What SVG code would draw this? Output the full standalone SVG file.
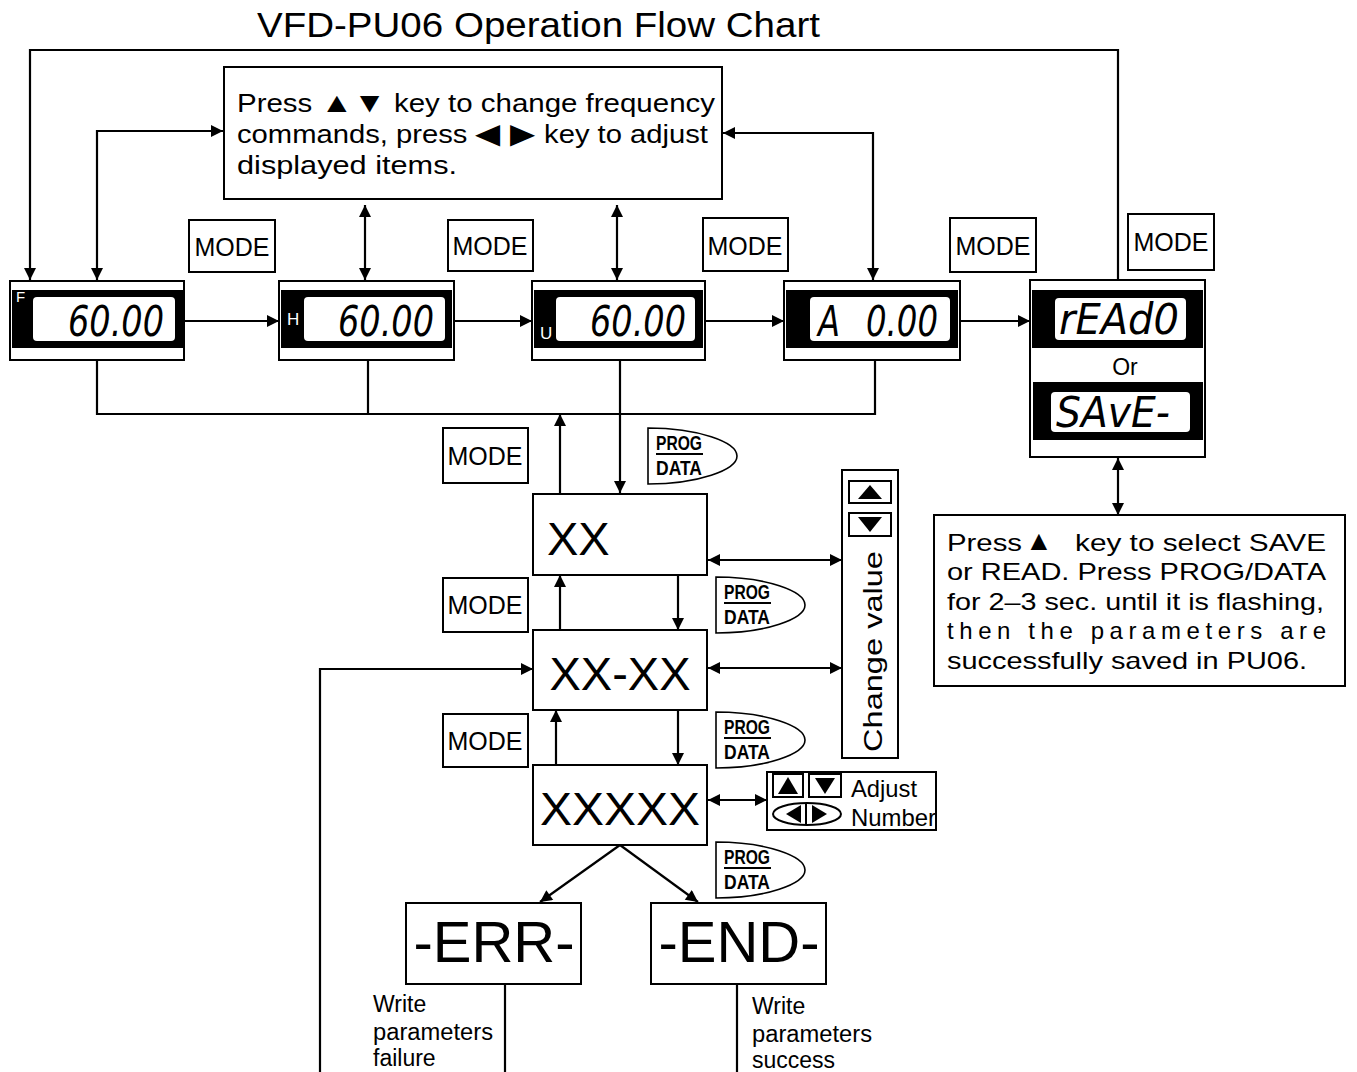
<svg xmlns="http://www.w3.org/2000/svg" width="1357" height="1072" viewBox="0 0 1357 1072">
<style>
.bx{fill:#fff;stroke:#000;stroke-width:2}
.ln{fill:none;stroke:#000;stroke-width:2.2}
.t{font-family:"Liberation Sans",Arial,sans-serif;fill:#000}
.md{font-family:"Liberation Sans",Arial,sans-serif;font-size:25px}
.lcd{font-family:"DejaVu Sans",sans-serif;font-style:italic;font-weight:200;font-size:42px;fill:#000}
.lbl{font-family:"Liberation Sans",Arial,sans-serif;fill:#fff}
.big{font-family:"Liberation Sans",Arial,sans-serif;font-size:47px}
</style>
<defs>
<marker id="a" viewBox="0 0 10 10" refX="10" refY="5" markerWidth="13" markerHeight="12" markerUnits="userSpaceOnUse" orient="auto-start-reverse"><path d="M0,0 L10,5 L0,10 z" fill="#000"/></marker>
<g id="pd">
<path d="M0,0 L0,56 C50,56 89,42 89,28 C89,14 50,0 0,0 Z" fill="#fff" stroke="#000" stroke-width="1.6"/>
<text x="8" y="22" class="t" font-size="21" font-weight="bold" textLength="46" lengthAdjust="spacingAndGlyphs">PROG</text>
<line x1="8" y1="26" x2="55" y2="26" stroke="#000" stroke-width="2.2"/>
<text x="8" y="47" class="t" font-size="21" font-weight="bold" textLength="46" lengthAdjust="spacingAndGlyphs">DATA</text>
</g>
</defs>
<rect width="1357" height="1072" fill="#fff"/>

<text x="257" y="37" class="t" font-size="35" textLength="563" lengthAdjust="spacingAndGlyphs">VFD-PU06 Operation Flow Chart</text>

<g id="connectors">
<path class="ln" d="M1118,281 V50 H30 V280" marker-end="url(#a)"/>
<path class="ln" d="M223,131 H97 V280" marker-start="url(#a)" marker-end="url(#a)"/>
<path class="ln" d="M365,205 V280" marker-start="url(#a)" marker-end="url(#a)"/>
<path class="ln" d="M617,205 V280" marker-start="url(#a)" marker-end="url(#a)"/>
<path class="ln" d="M723,133 H873 V280" marker-start="url(#a)" marker-end="url(#a)"/>
<path class="ln" d="M184,321 H279" marker-end="url(#a)"/>
<path class="ln" d="M454,321 H532" marker-end="url(#a)"/>
<path class="ln" d="M705,321 H784" marker-end="url(#a)"/>
<path class="ln" d="M960,321 H1030" marker-end="url(#a)"/>
<path class="ln" d="M97,361 V414 H875 V361 M368,361 V414"/>
<path class="ln" d="M620,361 V493" marker-end="url(#a)"/>
<path class="ln" d="M560,494 V414" marker-end="url(#a)"/>
<path class="ln" d="M560,630 V575" marker-end="url(#a)"/>
<path class="ln" d="M678,575 V630" marker-end="url(#a)"/>
<path class="ln" d="M556,765 V710" marker-end="url(#a)"/>
<path class="ln" d="M678,710 V765" marker-end="url(#a)"/>
<path class="ln" d="M708,560 H842" marker-start="url(#a)" marker-end="url(#a)"/>
<path class="ln" d="M708,668 H842" marker-start="url(#a)" marker-end="url(#a)"/>
<path class="ln" d="M708,800 H767" marker-start="url(#a)" marker-end="url(#a)"/>
<path class="ln" d="M1118,458 V515" marker-start="url(#a)" marker-end="url(#a)"/>
<path class="ln" d="M620,845 L540,902" marker-end="url(#a)"/>
<path class="ln" d="M620,845 L698,902" marker-end="url(#a)"/>
<path class="ln" d="M505,984 V1072 M737,984 V1072"/>
<path class="ln" d="M320,1072 V669 H533" marker-end="url(#a)"/>
</g>

<g id="topbox">
<rect class="bx" x="224" y="67" width="498" height="132"/>
<text x="237" y="112" class="t" font-size="25" textLength="478" lengthAdjust="spacingAndGlyphs">Press <tspan font-size="28">▲▼</tspan> key to change frequency</text>
<text x="237" y="143" class="t" font-size="25" textLength="471" lengthAdjust="spacingAndGlyphs">commands, press <tspan font-size="28">◀ ▶</tspan> key to adjust</text>
<text x="237" y="174" class="t" font-size="25" textLength="220" lengthAdjust="spacingAndGlyphs">displayed items.</text>
</g>

<g id="mode1"><rect class="bx" x="189" y="220" width="86" height="52"/><text x="232" y="256" class="md" text-anchor="middle">MODE</text></g>
<g id="mode2"><rect class="bx" x="448" y="220" width="85" height="51"/><text x="490" y="255" class="md" text-anchor="middle">MODE</text></g>
<g id="mode3"><rect class="bx" x="703" y="218" width="85" height="53"/><text x="745" y="255" class="md" text-anchor="middle">MODE</text></g>
<g id="mode4"><rect class="bx" x="950" y="218" width="86" height="54"/><text x="993" y="255" class="md" text-anchor="middle">MODE</text></g>
<g id="mode5"><rect class="bx" x="1128" y="214" width="86" height="56"/><text x="1171" y="251" class="md" text-anchor="middle">MODE</text></g>
<g id="mode6"><rect class="bx" x="443" y="428" width="85" height="55"/><text x="485" y="465" class="md" text-anchor="middle">MODE</text></g>
<g id="mode7"><rect class="bx" x="443" y="578" width="85" height="54"/><text x="485" y="614" class="md" text-anchor="middle">MODE</text></g>
<g id="mode8"><rect class="bx" x="443" y="714" width="85" height="53"/><text x="485" y="750" class="md" text-anchor="middle">MODE</text></g>

<g id="lcdF">
<rect class="bx" x="10" y="281" width="174" height="79"/>
<rect x="12" y="290" width="171" height="58" fill="#000"/>
<rect x="33" y="297" width="142" height="44" rx="4" fill="#fff"/>
<text x="16" y="302" class="lbl" font-size="15">F</text>
<text x="68" y="336" class="lcd" textLength="96" lengthAdjust="spacingAndGlyphs">60.00</text>
</g>
<g id="lcdH">
<rect class="bx" x="279" y="281" width="175" height="79"/>
<rect x="281" y="290" width="171" height="58" fill="#000"/>
<rect x="304" y="297" width="141" height="44" rx="4" fill="#fff"/>
<text x="287" y="325" class="lbl" font-size="17">H</text>
<text x="338" y="336" class="lcd" textLength="96" lengthAdjust="spacingAndGlyphs">60.00</text>
</g>
<g id="lcdU">
<rect class="bx" x="532" y="281" width="173" height="79"/>
<rect x="534" y="290" width="169" height="58" fill="#000"/>
<rect x="556" y="297" width="139" height="44" rx="4" fill="#fff"/>
<text x="540" y="339" class="lbl" font-size="17">U</text>
<text x="590" y="336" class="lcd" textLength="96" lengthAdjust="spacingAndGlyphs">60.00</text>
</g>
<g id="lcdA">
<rect class="bx" x="784" y="281" width="176" height="79"/>
<rect x="786" y="290" width="172" height="58" fill="#000"/>
<rect x="810" y="297" width="140" height="44" rx="4" fill="#fff"/>
<text x="818" y="336" class="lcd" textLength="22" lengthAdjust="spacingAndGlyphs">A</text>
<text x="866" y="336" class="lcd" textLength="72" lengthAdjust="spacingAndGlyphs">0.00</text>
</g>
<g id="lcdRS">
<rect class="bx" x="1030" y="280" width="175" height="177"/>
<rect x="1032" y="290" width="171" height="58" fill="#000"/>
<rect x="1055" y="298" width="131" height="42" rx="4" fill="#fff"/>
<text x="1059" y="334" class="lcd" font-size="38" textLength="120" lengthAdjust="spacingAndGlyphs">rEAd0</text>
<text x="1125" y="375" class="t" font-size="23" text-anchor="middle">Or</text>
<rect x="1033" y="382" width="170" height="58" fill="#000"/>
<rect x="1051" y="392" width="139" height="40" rx="4" fill="#fff"/>
<text x="1056" y="427" class="lcd" font-size="38" textLength="114" lengthAdjust="spacingAndGlyphs">SAvE-</text>
</g>

<g id="infobox">
<rect class="bx" x="934" y="515" width="411" height="171"/>
<text x="947" y="551" class="t" font-size="24" textLength="75" lengthAdjust="spacingAndGlyphs">Press</text>
<text x="1025" y="550" class="t" font-size="28" font-family="DejaVu Sans">▲</text>
<text x="1075" y="551" class="t" font-size="24" textLength="251" lengthAdjust="spacingAndGlyphs">key to select SAVE</text>
<text x="947" y="580" class="t" font-size="24" textLength="379" lengthAdjust="spacingAndGlyphs">or READ. Press PROG/DATA</text>
<text x="947" y="610" class="t" font-size="24" textLength="377" lengthAdjust="spacingAndGlyphs">for 2–3 sec. until it is flashing,</text>
<text x="947" y="639" class="t" font-size="24" textLength="379" lengthAdjust="spacing">then the parameters are</text>
<text x="947" y="669" class="t" font-size="24" textLength="360" lengthAdjust="spacingAndGlyphs">successfully saved in PU06.</text>
</g>

<use href="#pd" x="648" y="428"/>
<use href="#pd" x="716" y="577"/>
<use href="#pd" x="716" y="712"/>
<use href="#pd" x="716" y="842"/>

<g id="xx"><rect class="bx" x="533" y="494" width="174" height="81"/><text x="547" y="555" class="big">XX</text></g>
<g id="xxxx"><rect class="bx" x="533" y="630" width="174" height="80"/><text x="620" y="690" class="big" text-anchor="middle">XX-XX</text></g>
<g id="xxxxx"><rect class="bx" x="533" y="765" width="174" height="80"/><text x="620" y="825" class="big" text-anchor="middle" textLength="160" lengthAdjust="spacingAndGlyphs">XXXXX</text></g>

<g id="changevalue">
<rect class="bx" x="842" y="470" width="56" height="288"/>
<rect class="bx" x="849" y="481" width="42" height="22"/>
<path d="M858,499 L870,485 L882,499 Z" fill="#000"/>
<rect class="bx" x="849" y="513" width="42" height="23"/>
<path d="M858,517 L870,532 L882,517 Z" fill="#000"/>
<text transform="translate(882,752) rotate(-90)" class="t" font-size="26" textLength="201" lengthAdjust="spacingAndGlyphs">Change value</text>
</g>

<g id="adjust">
<rect class="bx" x="767" y="772" width="169" height="58"/>
<rect class="bx" x="773" y="774" width="30" height="23"/>
<path d="M778,794 L788,777 L798,794 Z" fill="#000"/>
<rect class="bx" x="809" y="774" width="32" height="23"/>
<path d="M815,778 L825,794 L835,778 Z" fill="#000"/>
<ellipse cx="807" cy="814" rx="34" ry="11" fill="none" stroke="#000" stroke-width="2"/>
<line x1="806" y1="803" x2="806" y2="825" stroke="#000" stroke-width="2"/>
<path d="M801,805 L786,814 L801,823 Z" fill="#000"/>
<path d="M812,805 L827,814 L812,823 Z" fill="#000"/>
<text x="851" y="797" class="t" font-size="24" textLength="66" lengthAdjust="spacingAndGlyphs">Adjust</text>
<text x="851" y="826" class="t" font-size="24" textLength="85" lengthAdjust="spacingAndGlyphs">Number</text>
</g>

<g id="err"><rect class="bx" x="406" y="903" width="175" height="81"/><text x="494" y="962" class="t" font-size="58" text-anchor="middle">-ERR-</text></g>
<g id="end"><rect class="bx" x="651" y="903" width="175" height="81"/><text x="739" y="962" class="t" font-size="58" text-anchor="middle">-END-</text></g>

<g id="notes">
<text class="t" font-size="23"><tspan x="373" y="1012">Write</tspan><tspan x="373" y="1040" textLength="120" lengthAdjust="spacingAndGlyphs">parameters</tspan><tspan x="373" y="1066">failure</tspan></text>
<text class="t" font-size="23"><tspan x="752" y="1014">Write</tspan><tspan x="752" y="1042" textLength="120" lengthAdjust="spacingAndGlyphs">parameters</tspan><tspan x="752" y="1068">success</tspan></text>
</g>
</svg>
